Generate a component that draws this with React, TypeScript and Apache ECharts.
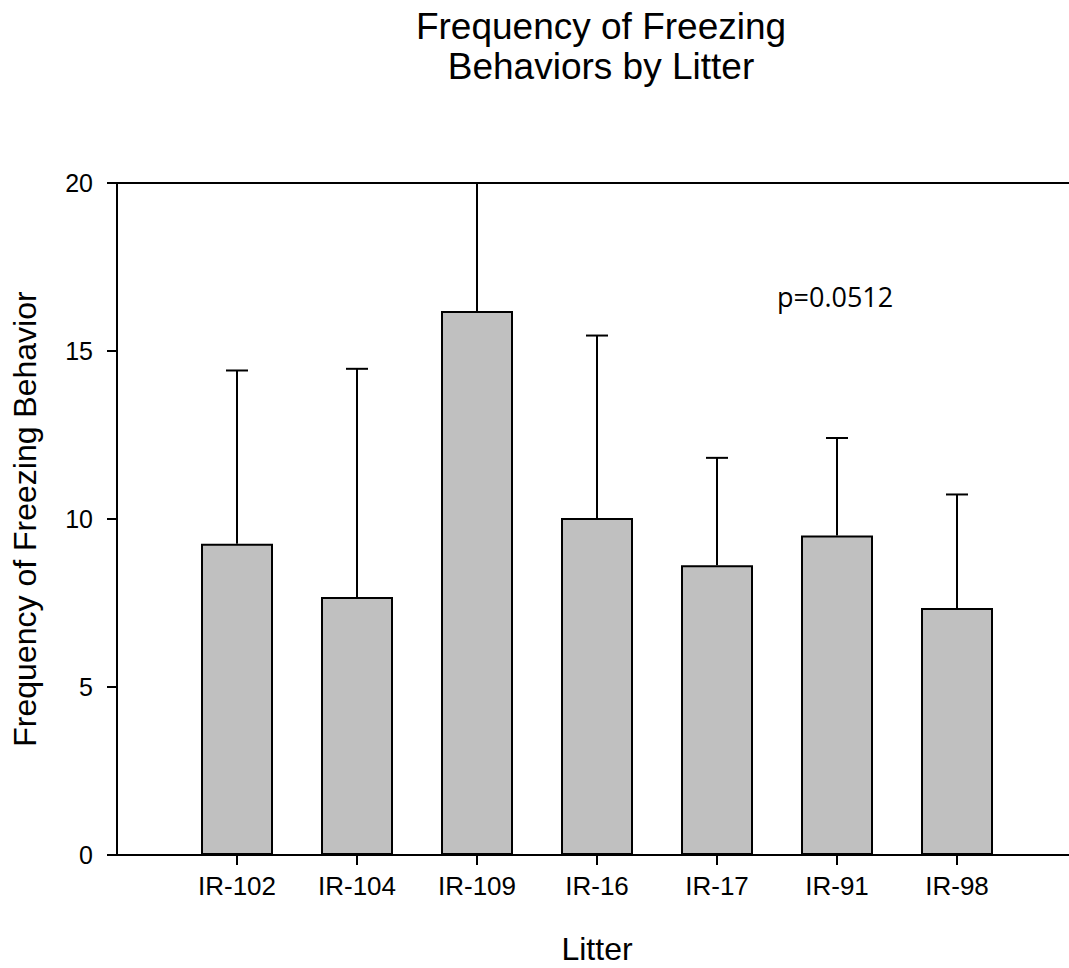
import React, { useEffect, useRef } from "react";
import * as echarts from "echarts";

const litters = ["IR-102", "IR-104", "IR-109", "IR-16", "IR-17", "IR-91", "IR-98"];
const means = [9.26, 7.68, 16.19, 10.03, 8.62, 9.51, 7.35];
const upperErrors = [14.42, 14.47, 21.5, 15.46, 11.82, 12.41, 10.73];
const yTicks = [0, 5, 10, 15, 20];
const axisCategories = ["", ...litters, ""];
const titleText = "Frequency of Freezing\nBehaviors by Litter";
const pValueText = "p=0.0512";

const Y_MIN = yTicks[0];
const Y_MAX = yTicks[yTicks.length - 1];
const FONT = "'Liberation Sans', Arial, sans-serif";

export default function App() {
  const ref = useRef<HTMLDivElement>(null);

  useEffect(() => {
    if (!ref.current) return;
    const chart = echarts.init(ref.current, undefined, { renderer: "svg" });
    const barData = litters.map((l, i) => [l, means[i]]);
    const errData = litters.map((l, i) => [l, means[i], upperErrors[i]]);

    chart.setOption({
      animation: false,
      backgroundColor: "#ffffff",
      textStyle: { fontFamily: FONT, color: "#000" },
      title: {
        text: titleText,
        left: 596,
        top: 1,
        textAlign: "center",
        textStyle: {
          fontFamily: FONT,
          fontSize: 37,
          fontWeight: "normal",
          color: "#000",
          lineHeight: 40,
        },
      },
      grid: {
        left: 117,
        top: 183,
        width: 960,
        height: 672,
        show: true,
        borderColor: "#000",
        borderWidth: 2,
        backgroundColor: "transparent",
        containLabel: false,
        outerBoundsMode: "none",
      },
      xAxis: {
        type: "category",
        data: axisCategories,
        boundaryGap: false,
        name: "Litter",
        nameLocation: "middle",
        nameGap: 78,
        nameTextStyle: { fontFamily: FONT, fontSize: 32, color: "#000" },
        axisLine: { show: true, lineStyle: { color: "#000", width: 2 } },
        axisTick: {
          show: true,
          length: 10,
          lineStyle: { color: "#000", width: 2 },
          interval: (idx: number, val: string) => val !== "",
        },
        axisLabel: {
          fontFamily: FONT,
          fontSize: 26,
          color: "#000",
          margin: 18,
          interval: 0,
        },
        splitLine: { show: false },
      },
      yAxis: {
        type: "value",
        min: Y_MIN,
        max: Y_MAX,
        interval: 5,
        name: "Frequency of Freezing Behavior",
        nameLocation: "middle",
        nameGap: 76,
        nameTextStyle: { fontFamily: FONT, fontSize: 32, color: "#000" },
        axisLine: { show: true, lineStyle: { color: "#000", width: 2 } },
        axisTick: { show: true, length: 10, lineStyle: { color: "#000", width: 2 } },
        axisLabel: { fontFamily: FONT, fontSize: 25, color: "#000", margin: 24 },
        splitLine: { show: false },
      },
      graphic: [
        {
          type: "text",
          left: 777,
          top: 283,
          style: {
            text: pValueText,
            fontFamily: "'Open Sans', 'Noto Sans', sans-serif",
            fontSize: 27,
            fill: "#000",
          },
        },
      ],
      series: [
        {
          type: "bar",
          data: barData,
          barWidth: 72,
          itemStyle: { color: "#c0c0c0", borderColor: "#000", borderWidth: 2 },
          z: 2,
        },
        {
          type: "custom",
          data: errData,
          encode: { x: 0, y: [1, 2] },
          z: 3,
          renderItem: (params: any, api: any) => {
            const cat = api.value(0);
            const m = api.value(1);
            const u = api.value(2);
            const top = Math.min(u, Y_MAX);
            const p0 = api.coord([cat, m]);
            const p1 = api.coord([cat, top]);
            const children: any[] = [
              {
                type: "line",
                shape: { x1: p0[0], y1: p0[1], x2: p1[0], y2: p1[1] },
                style: { stroke: "#000", lineWidth: 2 },
              },
            ];
            if (u < Y_MAX) {
              children.push({
                type: "line",
                shape: { x1: p1[0] - 11, y1: p1[1], x2: p1[0] + 11, y2: p1[1] },
                style: { stroke: "#000", lineWidth: 2 },
              });
            }
            return { type: "group", children };
          },
        },
      ],
    });

    return () => chart.dispose();
  }, []);

  return (
    <div
      ref={ref}
      style={{ position: "absolute", left: 0, top: 0, width: 1069, height: 968 }}
    />
  );
}
